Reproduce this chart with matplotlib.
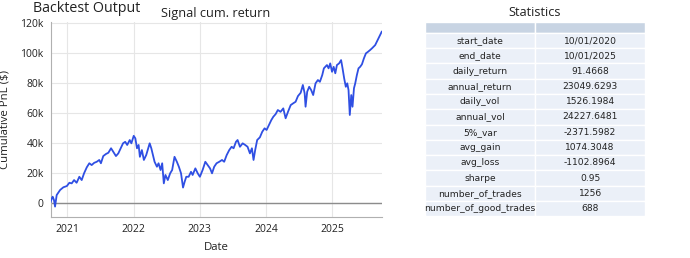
import matplotlib
matplotlib.use("Agg")
import matplotlib.pyplot as plt
import matplotlib.dates as mdates
from matplotlib.patches import Rectangle
from matplotlib.ticker import FuncFormatter
import pandas as pd

# ---------------- data ----------------
dates = [
    "2020-10-01", "2020-10-07", "2020-10-12", "2020-10-19", "2020-10-25", "2020-11-03",
    "2020-11-22", "2020-12-10", "2020-12-29", "2021-01-12", "2021-01-25", "2021-02-07",
    "2021-02-21", "2021-03-08", "2021-03-21", "2021-04-03", "2021-04-18", "2021-05-02",
    "2021-05-15", "2021-05-29", "2021-06-12", "2021-06-26", "2021-07-05", "2021-07-18",
    "2021-08-02", "2021-08-15", "2021-08-30", "2021-09-11", "2021-09-26", "2021-10-09",
    "2021-10-22", "2021-11-04", "2021-11-16", "2021-11-27", "2021-12-11", "2021-12-20",
    "2022-01-02", "2022-01-11", "2022-01-20", "2022-01-29", "2022-02-05", "2022-02-16",
    "2022-02-27", "2022-03-12", "2022-03-31", "2022-04-09", "2022-04-18", "2022-04-27",
    "2022-05-10", "2022-05-19", "2022-05-30", "2022-06-08", "2022-06-17", "2022-06-26",
    "2022-07-09", "2022-07-22", "2022-08-02", "2022-08-15", "2022-08-28", "2022-09-08",
    "2022-09-20", "2022-10-01", "2022-10-10", "2022-10-19", "2022-11-01", "2022-11-14",
    "2022-11-23", "2022-12-08", "2022-12-21", "2023-01-02", "2023-01-17", "2023-02-01",
    "2023-02-14", "2023-02-27", "2023-03-10", "2023-03-22", "2023-04-04", "2023-04-19",
    "2023-05-04", "2023-05-16", "2023-05-30", "2023-06-13", "2023-06-26", "2023-07-07",
    "2023-07-20", "2023-07-29", "2023-08-11", "2023-08-26", "2023-09-09", "2023-09-22",
    "2023-10-05", "2023-10-16", "2023-10-25", "2023-11-03", "2023-11-14", "2023-11-29",
    "2023-12-12", "2023-12-25", "2024-01-05", "2024-01-18", "2024-01-31", "2024-02-11",
    "2024-02-24", "2024-03-07", "2024-03-22", "2024-04-06", "2024-04-19", "2024-05-02",
    "2024-05-17", "2024-05-31", "2024-06-13", "2024-06-26", "2024-07-11", "2024-07-23",
    "2024-08-02", "2024-08-07", "2024-08-16", "2024-08-27", "2024-09-07", "2024-09-18",
    "2024-10-01", "2024-10-14", "2024-10-25", "2024-11-07", "2024-11-16", "2024-12-03",
    "2024-12-12", "2024-12-21", "2024-12-31", "2025-01-09", "2025-01-18", "2025-01-27",
    "2025-02-08", "2025-02-19", "2025-02-27", "2025-03-08", "2025-03-17", "2025-03-25",
    "2025-04-01", "2025-04-08", "2025-04-16", "2025-04-23", "2025-05-01", "2025-05-08",
    "2025-05-17", "2025-05-26", "2025-06-04", "2025-06-14", "2025-06-25", "2025-07-06",
    "2025-07-17", "2025-07-29", "2025-08-08", "2025-08-17", "2025-08-26", "2025-09-04",
    "2025-09-14", "2025-09-25", "2025-10-01",
]
cum_pnl = [
    1000, 3300, 4400, 2200, -2200, 5500,
    8900, 10700, 11500, 13700, 13300, 15500,
    13700, 17700, 15500, 20000, 24000, 26700,
    25500, 27000, 27700, 28900, 26700, 31500,
    32900, 33700, 36700, 34400, 31500, 33300,
    36700, 40000, 41000, 38900, 42200, 40000,
    45000, 43300, 36700, 38900, 31000, 35500,
    28900, 32200, 40000, 36700, 32200, 27700,
    24400, 26700, 22200, 26700, 13300, 18900,
    15500, 20000, 22200, 31000, 27700, 24400,
    20000, 10500, 14400, 17700, 17700, 21000,
    18900, 23300, 20000, 17700, 22200, 27700,
    25500, 23300, 20000, 24400, 26700, 27700,
    28900, 27700, 32200, 35500, 37700, 36700,
    41000, 42200, 37700, 40000, 38900, 37700,
    33300, 36700, 28900, 35500, 42200, 44000,
    47700, 50000, 48900, 52200, 55500, 57700,
    59500, 62200, 61000, 63300, 56700, 61000,
    65500, 66700, 67700, 71500, 73700, 78900,
    73300, 64400, 74400, 77700, 75500, 72200,
    80000, 82200, 81000, 85500, 90000, 92200,
    90000, 93300, 87700, 91000, 86700, 92200,
    93300, 95500, 90000, 83300, 77700, 80000,
    75500, 58900, 72200, 64400, 76700, 80000,
    85500, 90000, 91000, 92700, 96700, 100000,
    101000, 102200, 103300, 104400, 105500, 107700,
    110000, 112700, 114400,
]

stat_names = [
    "start_date", "end_date", "daily_return", "annual_return", "daily_vol",
    "annual_vol", "5%_var", "avg_gain", "avg_loss", "sharpe",
    "number_of_trades", "number_of_good_trades",
]
stat_values = [
    "10/01/2020", "10/01/2025", "91.4668", "23049.6293", "1526.1984",
    "24227.6481", "-2371.5982", "1074.3048", "-1102.8964", "0.95",
    "1256", "688",
]

# ---------------- figure ----------------
W, H = 690, 258
fig = plt.figure(figsize=(W / 100, H / 100), dpi=100)
fig.patch.set_facecolor("white")

TXT = "#222222"
CHART_FONT = ["Open Sans", "DejaVu Sans"]

def px2fig(x0, y0, x1, y1):
    return [x0 / W, 1 - y1 / H, (x1 - x0) / W, (y1 - y0) / H]

# ---- line chart ----
ax = fig.add_axes(px2fig(50.7, 21.7, 381.7, 217.3))
x = pd.to_datetime(dates)
ax.plot(x, cum_pnl, color="#2f4fe3", lw=1.3, zorder=3)
ax.set_xlim(x[0], x[-1])
ax.set_ylim(-9330, 121100)
ax.set_yticks([0, 20000, 40000, 60000, 80000, 100000, 120000])
ax.yaxis.set_major_formatter(FuncFormatter(lambda v, p: "0" if v == 0 else f"{int(v/1000)}k"))
ax.xaxis.set_major_locator(mdates.YearLocator())
ax.xaxis.set_major_formatter(mdates.DateFormatter("%Y"))
ax.grid(True, color="#e6e6e6", lw=0.8, zorder=0)
ax.set_axisbelow(True)
ax.axhline(0, color="#8c8c8c", lw=1.0, zorder=2)
for s in ["top", "right"]:
    ax.spines[s].set_visible(False)
for s in ["left", "bottom"]:
    ax.spines[s].set_color("#b0b0b0")
    ax.spines[s].set_linewidth(0.8)
ax.tick_params(length=0, pad=5, labelsize=7.5, labelcolor=TXT)
for lab in ax.get_xticklabels() + ax.get_yticklabels():
    lab.set_family(CHART_FONT)
ax.set_xlabel("Date", fontsize=8.2, color=TXT, family=CHART_FONT, labelpad=5)
ax.set_ylabel("Cumulative PnL ($)", fontsize=8.2, color=TXT, family=CHART_FONT, labelpad=7)

fig.text(216 / W, 1 - 14 / H, "Signal cum. return", ha="center", va="center",
         fontsize=9.2, color=TXT, family=CHART_FONT)
fig.text(33 / W, 1 - 8.5 / H, "Backtest Output", ha="left", va="center",
         fontsize=10.3, color=TXT, family=CHART_FONT)

# ---- table ----
tx0, tx1 = 425.0, 645.0
ty0, ty1 = 21.7, 216.3
tax = fig.add_axes(px2fig(tx0, ty0, tx1, ty1))
tax.set_xlim(0, tx1 - tx0)
tax.set_ylim(ty1 - ty0, 0)
tax.axis("off")

colsplit = 535.3 - tx0
header_h = 11.2
n = len(stat_names)
row_h = (ty1 - ty0 - header_h) / n
tw = tx1 - tx0

tax.add_patch(Rectangle((0, 0), colsplit, header_h, facecolor="#c8d4e3", edgecolor="white", lw=1))
tax.add_patch(Rectangle((colsplit, 0), tw - colsplit, header_h, facecolor="#c8d4e3", edgecolor="white", lw=1))
for i, (name, val) in enumerate(zip(stat_names, stat_values)):
    y0 = header_h + i * row_h
    r1 = Rectangle((0, y0), colsplit, row_h, facecolor="#ebf0f8", edgecolor="white", lw=1)
    r2 = Rectangle((colsplit, y0), tw - colsplit, row_h, facecolor="#ebf0f8", edgecolor="white", lw=1)
    tax.add_patch(r1)
    tax.add_patch(r2)
    t1 = tax.text(colsplit / 2, y0 + row_h / 2, name, ha="center", va="center",
                  fontsize=6.6, color=TXT, family="DejaVu Sans")
    t1.set_clip_path(r1)
    t1.set_clip_on(True)
    tax.text(colsplit + (tw - colsplit) / 2, y0 + row_h / 2, val, ha="center", va="center",
             fontsize=6.6, color=TXT, family="DejaVu Sans")

fig.text(535 / W, 1 - 13 / H, "Statistics", ha="center", va="center",
         fontsize=9.2, color=TXT, family=CHART_FONT)

fig.savefig("out.png", dpi=100)
